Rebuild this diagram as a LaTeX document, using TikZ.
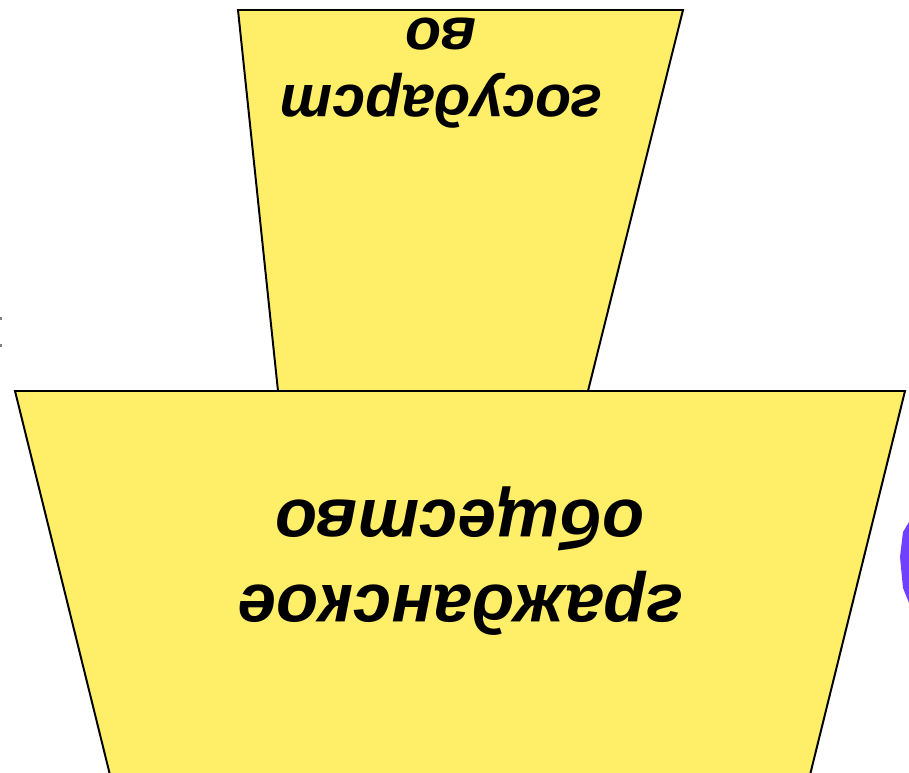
\documentclass[tikz,border=0pt]{standalone}
\usepackage{fontspec}
\setmainfont{Liberation Sans}
\usetikzlibrary{positioning}

\definecolor{panelyellow}{RGB}{255,238,104}
\definecolor{edgeviolet}{RGB}{112,64,255}

\begin{document}
\begin{tikzpicture}[
      x=0.025cm, y=-0.025cm,
      panel/.style ={draw=black, line width=1.4pt, fill=panelyellow},
      label/.style ={rotate=180, align=center, inner sep=0pt,
                     font=\bfseries\itshape}
    ]

    \useasboundingbox (0,0) rectangle (909,773);

    % upper block: state
    \coordinate (st_tl) at (238,10);
    \coordinate (st_tr) at (683,10);
    \coordinate (st_br) at (588,391);
    \coordinate (st_bl) at (278,391);
    \draw[panel] (st_tl) -- (st_tr) -- (st_br) -- (st_bl) -- cycle;

    % lower block: civil society
    \coordinate (cs_tl) at (15,391);
    \coordinate (cs_tr) at (905,391);
    \coordinate (cs_br) at (810,775);
    \coordinate (cs_bl) at (110,775);
    \draw[panel] (cs_tl) -- (cs_tr) -- (cs_br) -- (cs_bl) -- cycle;

    \node[label, font=\bfseries\itshape\fontsize{42}{48}\selectfont]
          (state) at (441,73) {государст\\во};
    \node[label, font=\bfseries\itshape\fontsize{49}{61}\selectfont]
          (society) at (460,561) {гражданское\\общество};

    % cut-off shape at the right edge
    \fill[edgeviolet] (909,522) -- (903,532) -- (900,557)
          -- (903,588) -- (909,603) -- cycle;

    % stray marks at the left edge
    \fill[gray] (0,317) rectangle (2,320);
    \fill[gray] (0,344) rectangle (2,347);
\end{tikzpicture}
\end{document}
